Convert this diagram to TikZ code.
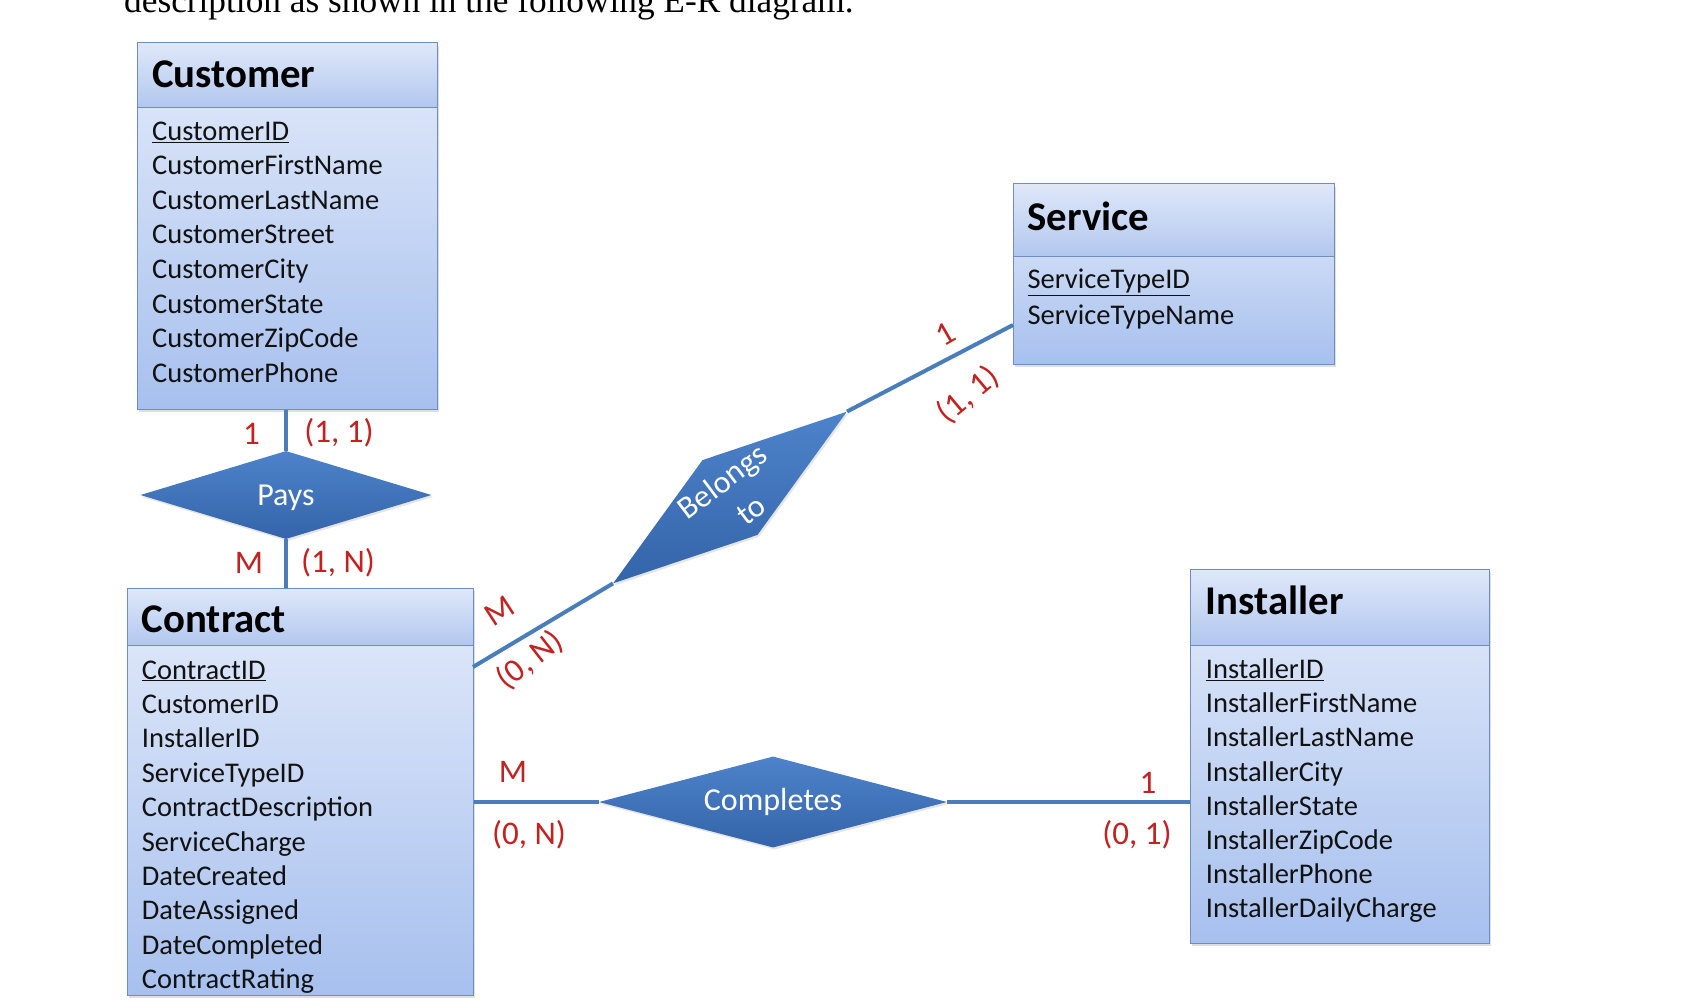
\documentclass[tikz,border=0pt]{standalone}
\usepackage{fontspec}
\setmainfont{Carlito}
\newfontfamily\timesf{Liberation Serif}
\usetikzlibrary{shapes.geometric,shadows,calc}
\definecolor{bodytop}{HTML}{E3EBFA}
\definecolor{bodybot}{HTML}{A7C0EE}
\definecolor{hdrtop}{HTML}{DFE8F9}
\definecolor{hdrbot}{HTML}{B2C7EF}
\definecolor{boxline}{HTML}{6E8DC2}
\definecolor{linecol}{HTML}{4A7EBB}
\definecolor{reltop}{HTML}{4D83CB}
\definecolor{relbot}{HTML}{3464A9}
\definecolor{cardred}{HTML}{C4211F}
\definecolor{attrcol}{HTML}{111111}
\begin{document}
\begin{tikzpicture}[x=1pt,y=-1pt,
  entity/.style={draw=boxline, line width=1pt, top color=bodytop, bottom color=bodybot, inner sep=0pt,
    drop shadow={shadow xshift=2pt, shadow yshift=-3pt, opacity=0.25}},
  header/.style={draw=boxline, line width=1pt, top color=hdrtop, bottom color=hdrbot, inner sep=0pt, anchor=north},
  title/.style={anchor=base west, inner sep=0pt, font=\fontsize{40.8}{48}\selectfont\bfseries},
  attr/.style={anchor=base west, inner sep=0pt, text=attrcol, font=\fontsize{28.5}{34}\selectfont},
  rel/.style={diamond, top color=reltop, bottom color=relbot, draw=none, inner sep=0pt,
    drop shadow={shadow xshift=1.5pt, shadow yshift=-2pt, opacity=0.2}},
  reltext/.style={text=white, inner sep=0pt, align=center, font=\fontsize{32}{35}\selectfont},
  conn/.style={draw=linecol, line width=4pt},
  card/.style={text=cardred, inner sep=0pt, font=\fontsize{33}{38}\selectfont}]
\useasboundingbox[fill=white] (0,0) rectangle (1684,1008);

% top caption (cut off by the page edge)
\node[anchor=base west, inner sep=0pt, font=\timesf\fontsize{35.3}{40}\selectfont] (caption) at (124,13) {description as shown in the following E-R diagram.};

% ---------- Customer ----------
\node[entity, minimum width=300pt, minimum height=366pt] (customer) at (287,226) {};
\node[header, minimum width=300pt, minimum height=65pt] (customerH) at (customer.north) {};
\node[title] (customerT) at (152,87.5) {Customer};
\foreach \t [count=\i from 0] in {\underline{CustomerID},CustomerFirstName,CustomerLastName,CustomerStreet,CustomerCity,CustomerState,CustomerZipCode,CustomerPhone}
  \node[attr] (cust\i) at (152,140.5+34.5*\i) {\t};

% ---------- Contract ----------
\node[entity, minimum width=346pt, minimum height=407pt] (contract) at (300,791.5) {};
\node[header, minimum width=346pt, minimum height=57.5pt] (contractH) at (contract.north) {};
\node[title] (contractT) at (141.7,632.5) {Contract};
\foreach \t [count=\i from 0] in {\underline{ContractID},CustomerID,InstallerID,ServiceTypeID,ContractDescription,ServiceCharge,DateCreated,DateAssigned,DateCompleted,ContractRating}
  \node[attr] (contr\i) at (141.7,679+34.4*\i) {\t};

% ---------- Service ----------
\node[entity, minimum width=321pt, minimum height=180pt] (service) at (1173.5,274) {};
\node[header, minimum width=321pt, minimum height=72.7pt] (serviceH) at (service.north) {};
\node[title] (serviceT) at (1027.3,231) {Service};
\node[attr] (serv0) at (1027.3,289) {\underline{ServiceTypeID}};
\node[attr] (serv1) at (1027.3,324) {ServiceTypeName};

% ---------- Installer ----------
\node[entity, minimum width=299pt, minimum height=374pt] (installer) at (1339.5,756) {};
\node[header, minimum width=299pt, minimum height=76pt] (installerH) at (installer.north) {};
\node[title] (installerT) at (1205.7,614) {Installer};
\foreach \t [count=\i from 0] in {\underline{InstallerID},InstallerFirstName,InstallerLastName,InstallerCity,InstallerState,InstallerZipCode,InstallerPhone,InstallerDailyCharge}
  \node[attr] (inst\i) at (1205.7,678.5+34.2*\i) {\t};

% ---------- Relationships ----------
\node[rel, minimum width=291pt, minimum height=88pt] (pays) at (286,495) {};
\node[reltext] (paysT) at ([yshift=-3pt]pays.center) {Pays};

\node[rel, rotate=36.3, minimum width=290pt, minimum height=93pt] (belongs) at (730,497.5) {};
\node[reltext, rotate=37, font=\fontsize{32}{40}\selectfont] (belongsT) at (734,497) {Belongs\\\hspace*{12pt}to};

\node[rel, minimum width=348pt, minimum height=91pt] (completes) at (773,802) {};
\node[reltext] (completesT) at (completes.center) {Completes};

% ---------- Connectors ----------
\coordinate (contractB) at (473,667);
\coordinate (serviceB) at (1013,325);
\draw[conn] (pays.north |- customer.south) -- (pays.north);
\draw[conn] (pays.south) -- (pays.south |- contract.north);
\draw[conn] (contractB) -- (belongs.west);
\draw[conn] (belongs.east) -- (serviceB);
\draw[conn] (completes.west -| contract.east) -- (completes.west);
\draw[conn] (completes.east) -- (completes.east -| installer.west);

% ---------- Cardinalities ----------
\node[card] (c1) at (251.6,434) {1};
\node[card] (c2) at (339,433) {(1, 1)};
\node[card] (c3) at (249,563) {M};
\node[card] (c4) at (338,563) {(1, N)};

\node[card, rotate=33] (c5) at (500,611) {M};
\node[card, rotate=38] (c6) at (530,660) {(0, N)};
\node[card, rotate=30] (c7) at (945,334) {1};
\node[card, rotate=40] (c8) at (968,395) {(1, 1)};

\node[card] (c9) at (513,772) {M};
\node[card] (c10) at (529,835) {(0, N)};
\node[card] (c11) at (1148,783) {1};
\node[card] (c12) at (1137,835) {(0, 1)};
\end{tikzpicture}
\end{document}
